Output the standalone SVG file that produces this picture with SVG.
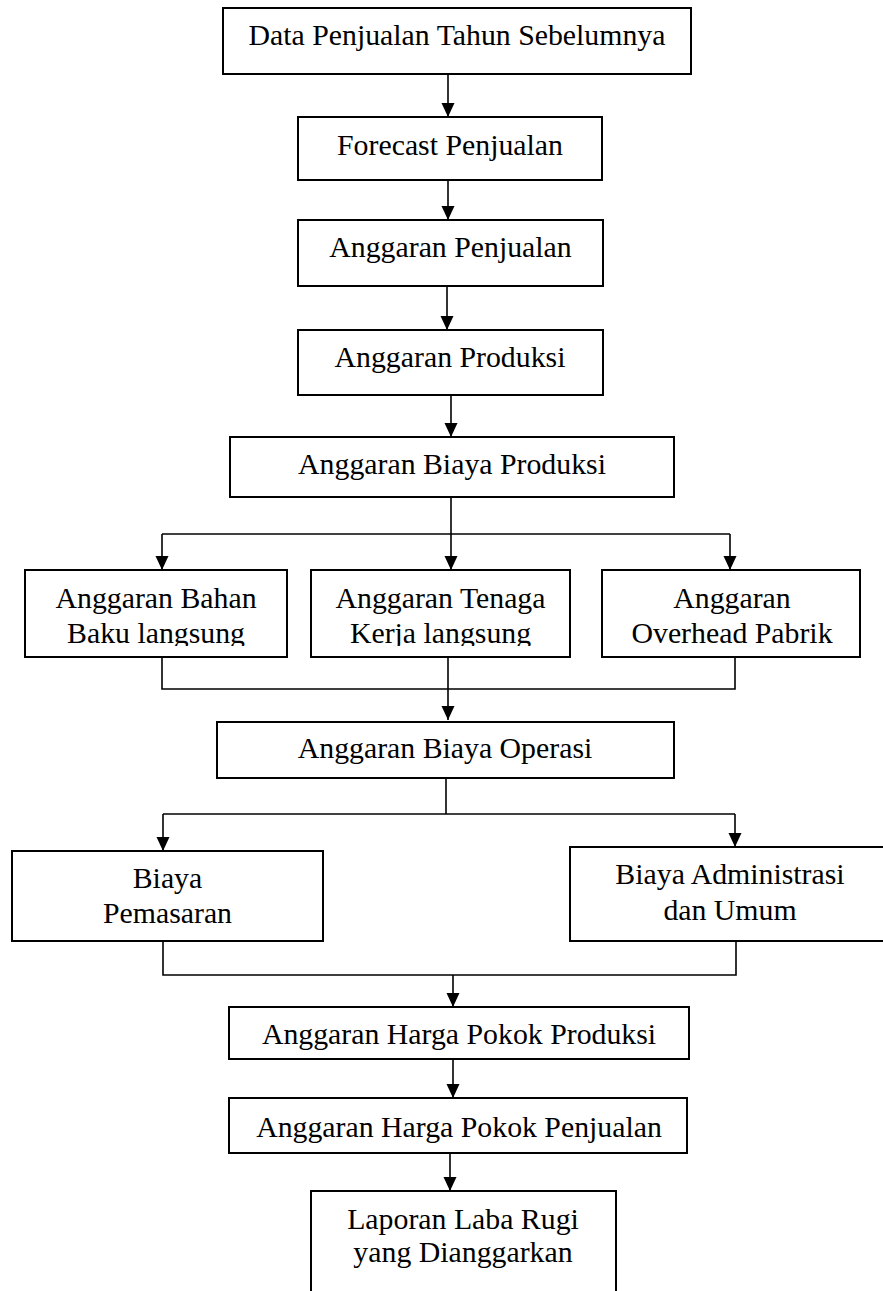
<svg xmlns="http://www.w3.org/2000/svg" width="883" height="1291" viewBox="0 0 883 1291">
<style>
.box{fill:#fff;stroke:#000;stroke-width:2}
.t{font-family:"Liberation Serif","Times New Roman",serif;font-size:29.8px;fill:#000;text-anchor:middle}
.ln{fill:none;stroke:#000;stroke-width:1.6}
</style>
<defs>
<marker id="ah" markerUnits="userSpaceOnUse" markerWidth="14" markerHeight="14" refX="14" refY="6.5" orient="auto">
<path d="M0,0 L14,6.5 L0,13 Z" fill="#000"/>
</marker>
<clipPath id="cl"><rect x="0" y="560" width="883" height="86"/></clipPath>
</defs>
<rect width="883" height="1291" fill="#fff"/>
<g id="connectors">
<line class="ln" x1="448" y1="74" x2="448" y2="117" marker-end="url(#ah)"/>
<line class="ln" x1="448" y1="180" x2="448" y2="220" marker-end="url(#ah)"/>
<line class="ln" x1="447" y1="286" x2="447" y2="330" marker-end="url(#ah)"/>
<line class="ln" x1="451" y1="395" x2="451" y2="437" marker-end="url(#ah)"/>
<line class="ln" x1="451" y1="497" x2="451" y2="534"/>
<line class="ln" x1="162" y1="534" x2="730" y2="534"/>
<line class="ln" x1="162" y1="534" x2="162" y2="570" marker-end="url(#ah)"/>
<line class="ln" x1="451" y1="534" x2="451" y2="570" marker-end="url(#ah)"/>
<line class="ln" x1="730" y1="534" x2="730" y2="570" marker-end="url(#ah)"/>
<polyline class="ln" points="162,657 162,689 735,689 735,657"/>
<line class="ln" x1="448" y1="657" x2="448" y2="720" marker-end="url(#ah)"/>
<line class="ln" x1="446" y1="778" x2="446" y2="814"/>
<line class="ln" x1="163" y1="814" x2="735" y2="814"/>
<line class="ln" x1="163" y1="814" x2="163" y2="851" marker-end="url(#ah)"/>
<line class="ln" x1="735" y1="814" x2="735" y2="847" marker-end="url(#ah)"/>
<polyline class="ln" points="163,941 163,975 736,975 736,941"/>
<line class="ln" x1="453" y1="975" x2="453" y2="1007" marker-end="url(#ah)"/>
<line class="ln" x1="453" y1="1059" x2="453" y2="1098" marker-end="url(#ah)"/>
<line class="ln" x1="450" y1="1153" x2="450" y2="1191" marker-end="url(#ah)"/>
</g>
<g id="n1"><rect class="box" x="223" y="8" width="468" height="66"/><text class="t" x="457" y="45">Data Penjualan Tahun Sebelumnya</text></g>
<g id="n2"><rect class="box" x="298" y="117" width="304" height="63"/><text class="t" x="450" y="155">Forecast Penjualan</text></g>
<g id="n3"><rect class="box" x="298" y="220" width="305" height="66"/><text class="t" x="450.5" y="257">Anggaran Penjualan</text></g>
<g id="n4"><rect class="box" x="298" y="330" width="305" height="65"/><text class="t" x="450" y="367">Anggaran Produksi</text></g>
<g id="n5"><rect class="box" x="230" y="437" width="444" height="60"/><text class="t" x="452" y="474">Anggaran Biaya Produksi</text></g>
<g id="n6"><rect class="box" x="25" y="570" width="262" height="87"/><g clip-path="url(#cl)"><text class="t" x="156" y="608">Anggaran Bahan</text><text class="t" x="156" y="643">Baku langsung</text></g></g>
<g id="n7"><rect class="box" x="311" y="570" width="259" height="87"/><g clip-path="url(#cl)"><text class="t" x="440.5" y="608">Anggaran Tenaga</text><text class="t" x="440.5" y="643">Kerja langsung</text></g></g>
<g id="n8"><rect class="box" x="602" y="570" width="258" height="87"/><text class="t" x="732" y="608">Anggaran</text><text class="t" x="732" y="643">Overhead Pabrik</text></g>
<g id="n9"><rect class="box" x="217" y="722" width="457" height="56"/><text class="t" x="445" y="758">Anggaran Biaya Operasi</text></g>
<g id="n10"><rect class="box" x="12" y="851" width="311" height="90"/><text class="t" x="167.5" y="888">Biaya</text><text class="t" x="167.5" y="923">Pemasaran</text></g>
<g id="n11"><rect class="box" x="570" y="847" width="330" height="94"/><text class="t" x="730" y="884">Biaya Administrasi</text><text class="t" x="730" y="920">dan Umum</text></g>
<g id="n12"><rect class="box" x="229" y="1007" width="460" height="52"/><text class="t" x="459" y="1044">Anggaran Harga Pokok Produksi</text></g>
<g id="n13"><rect class="box" x="229" y="1098" width="458" height="55"/><text class="t" x="459" y="1137">Anggaran Harga Pokok Penjualan</text></g>
<g id="n14"><rect class="box" x="311" y="1191" width="305" height="120"/><text class="t" x="463" y="1229">Laporan Laba Rugi</text><text class="t" x="463" y="1262">yang Dianggarkan</text></g>
</svg>
